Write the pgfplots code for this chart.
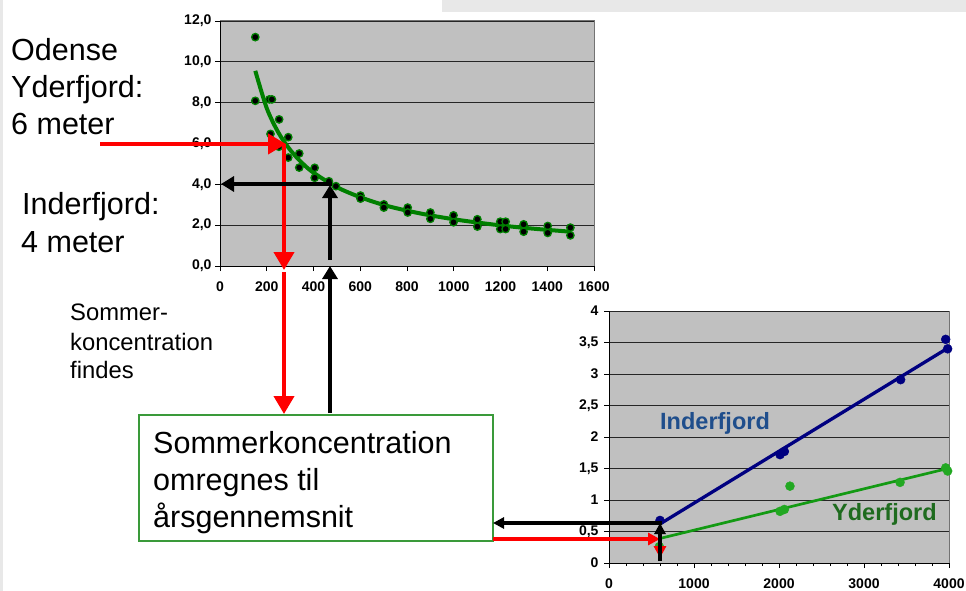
\documentclass[border=0pt]{standalone}
\usepackage{fontspec}
\setmainfont{Liberation Sans}
\usepackage{pgfplots}
\pgfplotsset{compat=1.18}
\usetikzlibrary{arrows.meta}

\definecolor{plotgray}{HTML}{C0C0C0}
\definecolor{fitgreen}{HTML}{008000}
\definecolor{indnavy}{HTML}{000080}
\definecolor{ydline}{HTML}{139A13}
\definecolor{ydmark}{HTML}{22A822}
\definecolor{indtext}{HTML}{1F4E8C}
\definecolor{ydtext}{HTML}{1E6B1E}
\definecolor{boxgreen}{HTML}{3A9A3A}
\definecolor{edgegray}{HTML}{E8E8E8}
\definecolor{arrred}{HTML}{FF0000}

\pgfplotsset{
  excel/.style={
    scale only axis,
    anchor=south west,
    axis background/.style={fill=plotgray},
    axis lines*=left,
    axis line style={black, line width=0.8pt, -},
    tick align=outside,
    tick style={black, line width=0.8pt},
    major tick length=5pt,
    minor tick length=3pt,
    ymajorgrids,
    grid style={black!85, line width=0.8pt},
    ticklabel style={font=\fontsize{14}{14}\selectfont\bfseries},
    /pgf/number format/assume math mode=true,
    /pgf/number format/1000 sep={},
    scaled ticks=false,
    clip=false,
  }
}

\begin{document}
\begin{tikzpicture}
\path[use as bounding box] (0pt,0pt) rectangle (966pt,-591pt);
\fill[edgegray] (0pt,0pt) rectangle (3pt,-591pt);
\fill[edgegray] (442pt,0pt) rectangle (966pt,-12pt);

% upper chart: depth vs. concentration
\begin{axis}[excel,
  at={(220pt,-266pt)}, width=374pt, height=245pt,
  xmin=0, xmax=1600, ymin=0, ymax=12,
  xtick={0,200,...,1600}, ytick={0,2,...,12},
  yticklabel={\pgfmathprintnumber[fixed,fixed zerofill,precision=1,use comma]{\tick}},
  xticklabel style={yshift=-7pt},
]
\addplot[fitgreen, line width=4pt, smooth] coordinates {
  (151,9.56) (200,7.73) (250,6.53) (300,5.69) (350,5.06) (400,4.57)
  (500,3.86) (600,3.37) (700,2.99) (800,2.71) (900,2.48) (1000,2.29)
  (1100,2.13) (1200,1.99) (1300,1.87) (1400,1.77) (1500,1.68)
};
\addplot[only marks, mark=*, mark size=3.7pt,
  mark options={fill=black, draw=fitgreen, line width=1.3pt}] coordinates {
  (151,11.21) (151,8.09) (211,8.16) (222,8.16) (253,7.18) (216,6.47)
  (292,6.31) (252,5.84) (292,5.31) (339,5.51) (339,4.82) (405,4.81)
  (405,4.32) (466,4.15) (496,3.91) (601,3.45) (601,3.30) (701,3.02)
  (701,2.86) (803,2.86) (803,2.62) (900,2.62) (900,2.31) (999,2.48)
  (999,2.14) (1101,2.29) (1101,1.93) (1199,2.17) (1222,2.17) (1199,1.81)
  (1222,1.81) (1299,2.04) (1299,1.68) (1402,1.96) (1402,1.62) (1499,1.88)
  (1499,1.50)
};
\draw[black!55, line width=1pt] (rel axis cs:0,1) -- (rel axis cs:1,1) -- (rel axis cs:1,0);
\end{axis}

% lower chart: summer vs. annual mean
\begin{axis}[excel,
  at={(609pt,-563pt)}, width=340pt, height=252pt,
  xmin=0, xmax=4000, ymin=0, ymax=4,
  xtick={0,1000,...,4000}, minor x tick num=4,
  ytick={0,0.5,...,4},
  yticklabel={\pgfmathprintnumber[use comma]{\tick}},
  yticklabel style={xshift=-2pt},
  xticklabel style={yshift=-7pt},
]
\addplot[indnavy, line width=3.3pt] coordinates {(600,0.62) (3984,3.41)};
\addplot[ydline, line width=2.7pt] coordinates {(600,0.39) (3984,1.50)};
\addplot[only marks, mark=*, mark size=4.5pt, indnavy] coordinates {
  (600,0.676) (2012,1.72) (2063,1.77) (3431,2.91) (3961,3.55) (3984,3.40)
};
\addplot[only marks, mark=*, mark size=4.5pt, ydmark] coordinates {
  (592,0.26) (2012,0.82) (2063,0.85) (2129,1.22) (3424,1.28) (3961,1.51) (3984,1.46)
};
\draw[black!55, line width=1pt] (rel axis cs:1,0) -- (rel axis cs:1,1);
\end{axis}

\node[anchor=base west, inner sep=0, text=indtext, font=\fontsize{23.5}{24}\selectfont\bfseries] at (660pt,-429pt) {Inderfjord};
\node[anchor=base west, inner sep=0, text=ydtext, font=\fontsize{23.5}{24}\selectfont\bfseries] at (832pt,-520pt) {Yderfjord};

% left texts
\begin{scope}[every node/.style={anchor=base west, inner sep=0, font=\fontsize{30.5}{31}\selectfont}]
\node at (11pt,-61pt) {Odense};
\node at (11pt,-98pt) {Yderfjord:};
\node at (11pt,-135pt) {6 meter};
\node at (22pt,-214pt) {Inderfjord:};
\node at (21pt,-252pt) {4 meter};
\end{scope}
\begin{scope}[every node/.style={anchor=base west, inner sep=0, font=\fontsize{23.8}{24}\selectfont}]
\node at (70pt,-320pt) {Sommer-};
\node at (70pt,-350pt) {koncentration};
\node at (70pt,-378pt) {findes};
\end{scope}

% box
\draw[boxgreen, fill=white, line width=1.2pt] (139pt,-415pt) rectangle (493pt,-541pt);
\begin{scope}[every node/.style={anchor=base west, inner sep=0, font=\fontsize{30.5}{31}\selectfont}]
\node at (153pt,-453pt) {Sommerkoncentration};
\node at (153pt,-490pt) {omregnes til};
\node at (153pt,-527pt) {årsgennemsnit};
\end{scope}

% arrows
\tikzset{
  redbig/.style={arrred, line width=4pt, -{Triangle[length=18pt, width=20pt]}},
  blackmid/.style={black, line width=4pt, -{Triangle[length=13pt, width=15pt]}},
  redsmall/.style={arrred, line width=3.5pt, -{Triangle[length=12pt, width=12pt]}},
  blacksmall/.style={black, line width=3.5pt, -{Triangle[length=11pt, width=11pt]}},
}
\draw[redbig] (100pt,-144pt) -- (286pt,-144pt);
\draw[redbig] (284pt,-144pt) -- (284pt,-270pt);
\draw[redbig] (284pt,-272pt) -- (284pt,-414pt);
\draw[blackmid] (330pt,-413pt) -- (330pt,-266pt);
\draw[blackmid] (330pt,-260pt) -- (330pt,-185pt);
\draw[blackmid] (332pt,-184pt) -- (221pt,-184pt);
\draw[redsmall] (493pt,-539pt) -- (660pt,-539pt);
\draw[redsmall] (660pt,-539pt) -- (660pt,-558pt);
\draw[blacksmall] (660pt,-561pt) -- (660pt,-523pt);
\draw[blacksmall] (662pt,-523pt) -- (493pt,-523pt);
\end{tikzpicture}
\end{document}
